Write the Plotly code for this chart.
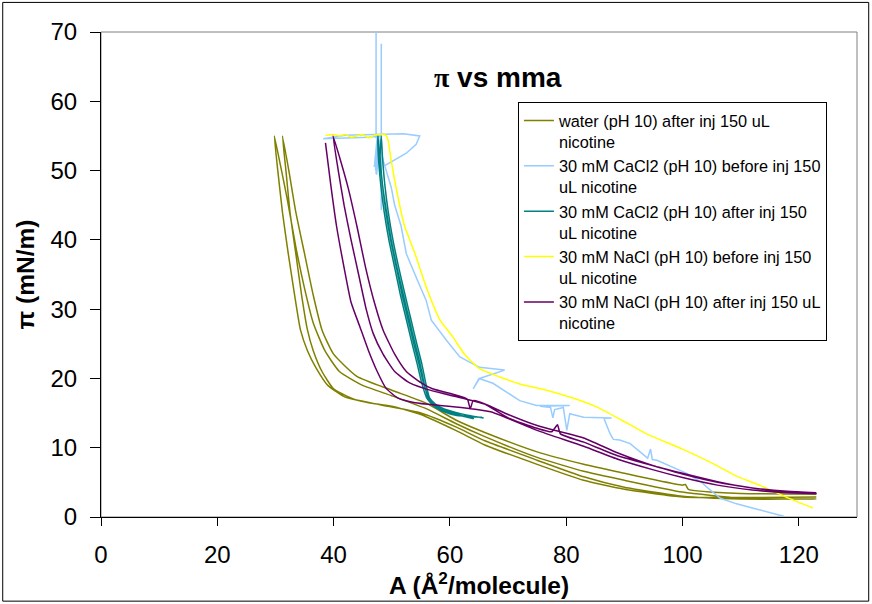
import plotly.graph_objects as go

# pi-A isotherms, values
water_x = [123, 110, 101, 100.5, 100, 95, 90, 83, 75, 66, 61, 56, 50, 44, 40, 38, 36.5, 35, 33.5, 32.3, 31.2,
           31.8, 32.5, 33.5, 34.5, 35.5, 36.5, 38, 40, 43.5, 48, 55, 61, 66, 75, 83, 90, 100, 110, 123,
           110, 100, 90, 83, 75, 66, 61, 56, 50, 45, 41, 38.5, 36.5, 35, 33.5, 32, 30.8, 29.8,
           30.4, 31.2, 32.2, 33.3, 34.3, 35.5, 37, 39, 42, 46, 50, 55, 61, 66, 75, 83, 90, 100, 110, 123]
water_y = [3.3, 3.4, 4.0, 4.7, 4.6, 5.4, 6.3, 7.6, 9.4, 12.2, 14.0, 16.4, 18.3, 20.3, 23.5, 27, 32, 38, 44, 50, 55,
           50, 44, 38, 32, 27, 24, 21, 18.5, 17.0, 16.2, 15.0, 13.0, 11.0, 8.2, 5.8, 4.3, 3.0, 2.6, 2.6,
           2.7, 3.6, 5.3, 6.6, 8.6, 11.6, 13.5, 15.6, 17.5, 19.0, 21.0, 24, 28, 33, 39, 46, 51, 55,
           50, 44, 38, 32, 27, 24, 21.5, 19, 17.3, 16.5, 16.0, 14.8, 12.5, 10.4, 7.6, 5.3, 4.0, 2.9, 2.8, 2.9]

cacl2_before_x = [117.4, 114.5, 112, 109.3, 106.5, 104.2, 103.3, 100.7, 97, 95.6, 94.8, 94.5, 94, 91, 89.2, 88.1,
                  87.5, 86.5, 87.8, 83, 80.6, 80.1, 79.5, 78, 77.7, 77.3, 75.5, 80.6, 74.9, 72, 67.4, 65, 64,
                  65.1, 69.4, 65.1, 61.7, 59.4, 56.8, 55.9, 54.5, 52.5, 51.6, 50.5, 49.9, 49.1, 48.5,
                  47.6, 47.3, 47.8, 47.2, 47.9, 47.4, 47.7, 47.0, 47.5, 47.3, 47.3, 47.3,
                  48.2, 48.2, 48.2, 48.2, 46, 42, 38.2, 42, 48, 52, 54.8, 54.2, 52.5, 50.5, 48.8]
cacl2_before_y = [0.1, 0.7, 1.3, 1.9, 2.7, 4.3, 5.0, 6.3, 7.6, 8.2, 8.3, 9.8, 8.5, 10.6, 11.1, 11.2,
                  12.1, 14.2, 14.3, 14.4, 14.9, 12.5, 15.8, 15.5, 14.3, 15.8, 16.0, 16.1, 16.1, 16.8, 19.3, 20, 18.5,
                  20, 21.2, 21.6, 23.1, 25.5, 28.4, 31.3, 34, 38, 42, 45, 47.6, 50, 51.5,
                  55, 49.5, 55, 50, 54.5, 49.4, 55, 50.5, 54.8, 55, 76, 54.8,
                  55, 68.3, 44.3, 55, 54.8, 54.7, 54.6, 55.1, 55.2, 55.3, 55.0, 53.8, 52.5, 51.5, 50.7]

cacl2_after_x = [65.8, 63, 61, 59, 57.5, 56.5, 55.8, 55.2, 54.3, 53.3, 52.3, 51.2, 50.2, 49.4, 48.8, 48.4, 48.2,
                 48.0, 48.4, 49.0, 49.8, 50.8, 51.8, 52.8, 53.8, 54.7, 55.4, 56.3, 57.5, 59, 61, 64,
                 61, 59, 57.3, 56.2, 55.5, 54.9, 54.0, 53.0, 52.0, 50.9, 49.9, 49.1, 48.4, 47.9, 47.6,
                 47.7, 48.1, 48.7, 49.5, 50.5, 51.5, 52.5, 53.5, 54.4, 55.1, 56.0, 57.2, 59, 61, 65.5]
cacl2_after_y = [14.3, 14.7, 15.1, 15.6, 16.3, 17.2, 19.5, 22, 25, 28.5, 32, 36, 40, 44, 48, 52, 55,
                 52, 48, 44, 40, 36, 32, 28.5, 25, 22, 19.5, 17.3, 16.0, 15.3, 14.8, 14.2,
                 14.9, 15.4, 16.2, 17.3, 19.5, 22, 25, 28.5, 32, 36, 40, 44, 48, 52, 55,
                 52, 48, 44, 40, 36, 32, 28.5, 25, 22, 19.5, 17.2, 16.0, 15.2, 14.7, 14.4]

nacl_before_x = [122.4, 118, 113.5, 109, 105.5, 100, 96, 93.8, 89.5, 85.2, 81, 76.6, 72, 68.6, 65.1, 62.5, 60.5,
                 58.3, 56, 54, 52.2, 50.7, 49.8, 49.3, 48.8, 47, 46, 45, 44, 43, 42, 41, 40, 38.6]
nacl_before_y = [1.3, 2.8, 4.5, 6.0, 7.6, 9.8, 11.2, 12.0, 14.0, 15.9, 17.2, 18.3, 19.2, 20.2, 21.4, 23.5, 26,
                 28.4, 33, 38, 42, 47.7, 52, 54.6, 55.2, 55.1, 54.7, 55.2, 55.0, 54.8, 55.2, 55.0, 55.2, 55.1]

nacl_after_x = [38.6, 39.5, 40.5, 41.8, 43, 44.5, 46, 47.5, 49, 51, 54, 58.3, 63, 67, 75, 83, 89, 95, 100, 106, 112, 118, 123,
                118, 112, 106, 100, 95, 89, 83, 79, 78.5, 77.5, 75, 70, 66, 64, 63.5, 63, 61, 57, 55, 52.5, 50.5,
                48.5, 47, 45.5, 44, 42.5, 41, 39.9,
                40.8, 41.8, 43, 44.3, 45.6, 46.8, 48.5, 50.5, 53, 57, 61, 66, 70, 75, 79, 83, 89, 95, 100, 106, 112, 118, 123]
nacl_after_y = [54, 48, 42, 36, 31, 27.5, 24, 21, 18.6, 17.2, 16.5, 16.1, 15.7, 15.2, 12.5, 10.2, 8.3, 6.8, 5.7, 4.6, 3.9, 3.5, 3.4,
                3.6, 4.2, 5.0, 6.2, 7.4, 8.8, 10.8, 12.0, 13.3, 12.3, 12.8, 14.3, 16.3, 16.8, 15.6, 17.0, 17.6, 18.5, 19.4, 21, 23.5,
                27, 31, 36, 42, 47.5, 52, 55,
                50, 45, 40, 35, 30, 26.5, 23.5, 21, 19.4, 18.2, 17.4, 16.3, 14.8, 13.2, 12.3, 11.4, 9.2, 7.4, 6.3, 5.1, 4.2, 3.7, 3.5]

# (legend name, x, y, colour, line shape)
series = [
    ("water (pH 10) after inj 150 uL<br>nicotine", water_x, water_y, "#808000", "spline"),
    ("30 mM CaCl2 (pH 10) before inj 150<br>uL nicotine", cacl2_before_x, cacl2_before_y, "#99CCFF", "linear"),
    ("30 mM CaCl2 (pH 10) after inj 150<br>uL nicotine", cacl2_after_x, cacl2_after_y, "#008080", "spline"),
    ("30 mM NaCl (pH 10) before inj 150<br>uL nicotine", nacl_before_x, nacl_before_y, "#FFFF00", "spline"),
    ("30 mM NaCl (pH 10) after inj 150 uL<br>nicotine", nacl_after_x, nacl_after_y, "#660066", "spline"),
]

fig = go.Figure()
for name, xs, ys, color, shape in series:
    fig.add_trace(go.Scatter(x=xs, y=ys, mode="lines", name=name,
                             line=dict(color=color, width=1.5, shape=shape, smoothing=0.5)))

# plot-area frame (gray) and outer chart border
fig.add_shape(type="rect", xref="paper", yref="paper", x0=0, y0=0, x1=1, y1=1,
              line=dict(color="#808080", width=1), layer="below")
fig.add_shape(type="rect", xref="paper", yref="paper",
              x0=-0.13, y0=-0.1735, x1=1.0155, y1=1.061,
              line=dict(color="black", width=1))

fig.add_annotation(text="<b><span style='font-family:Liberation Serif'>π</span> vs mma</b>",
                   xref="paper", yref="paper", x=0.525, y=0.907, xanchor="center", yanchor="middle",
                   showarrow=False, font=dict(family="Arial", size=28, color="black"))

fig.update_layout(
    width=872, height=604,
    margin=dict(l=101, r=15, t=32, b=87, autoexpand=False),
    paper_bgcolor="white", plot_bgcolor="white",
    font=dict(family="Arial", color="black"),
    showlegend=True,
    legend=dict(x=0.5515, y=0.855, xanchor="left", yanchor="top",
                bordercolor="black", borderwidth=1, bgcolor="white",
                font=dict(size=16.3), valign="top", tracegroupgap=0, itemwidth=30),
)
fig.update_xaxes(range=[0, 130], dtick=20, tick0=0, showgrid=False, zeroline=False,
                 showline=True, linecolor="black", linewidth=1, automargin=False,
                 ticks="outside", ticklen=8, tickcolor="black",
                 tickfont=dict(size=24), ticklabelstandoff=8,
                 title=dict(text="<b>A (Å<sup>2</sup>/molecule)</b>", font=dict(size=24.5), standoff=2))
fig.update_yaxes(range=[0, 70], dtick=10, tick0=0, showgrid=False, zeroline=False,
                 showline=True, linecolor="black", linewidth=1, automargin=False,
                 ticks="outside", ticklen=10, tickcolor="black",
                 tickfont=dict(size=24), ticklabelstandoff=8,
                 title=dict(text="<b>π (mN/m)</b>", font=dict(size=24.5), standoff=8))

# the page body has a default 8px margin; remove it so the chart sits at the window origin
fig.write_html("out.html", config={"displayModeBar": False},
               post_script="document.body.style.margin='0';")
